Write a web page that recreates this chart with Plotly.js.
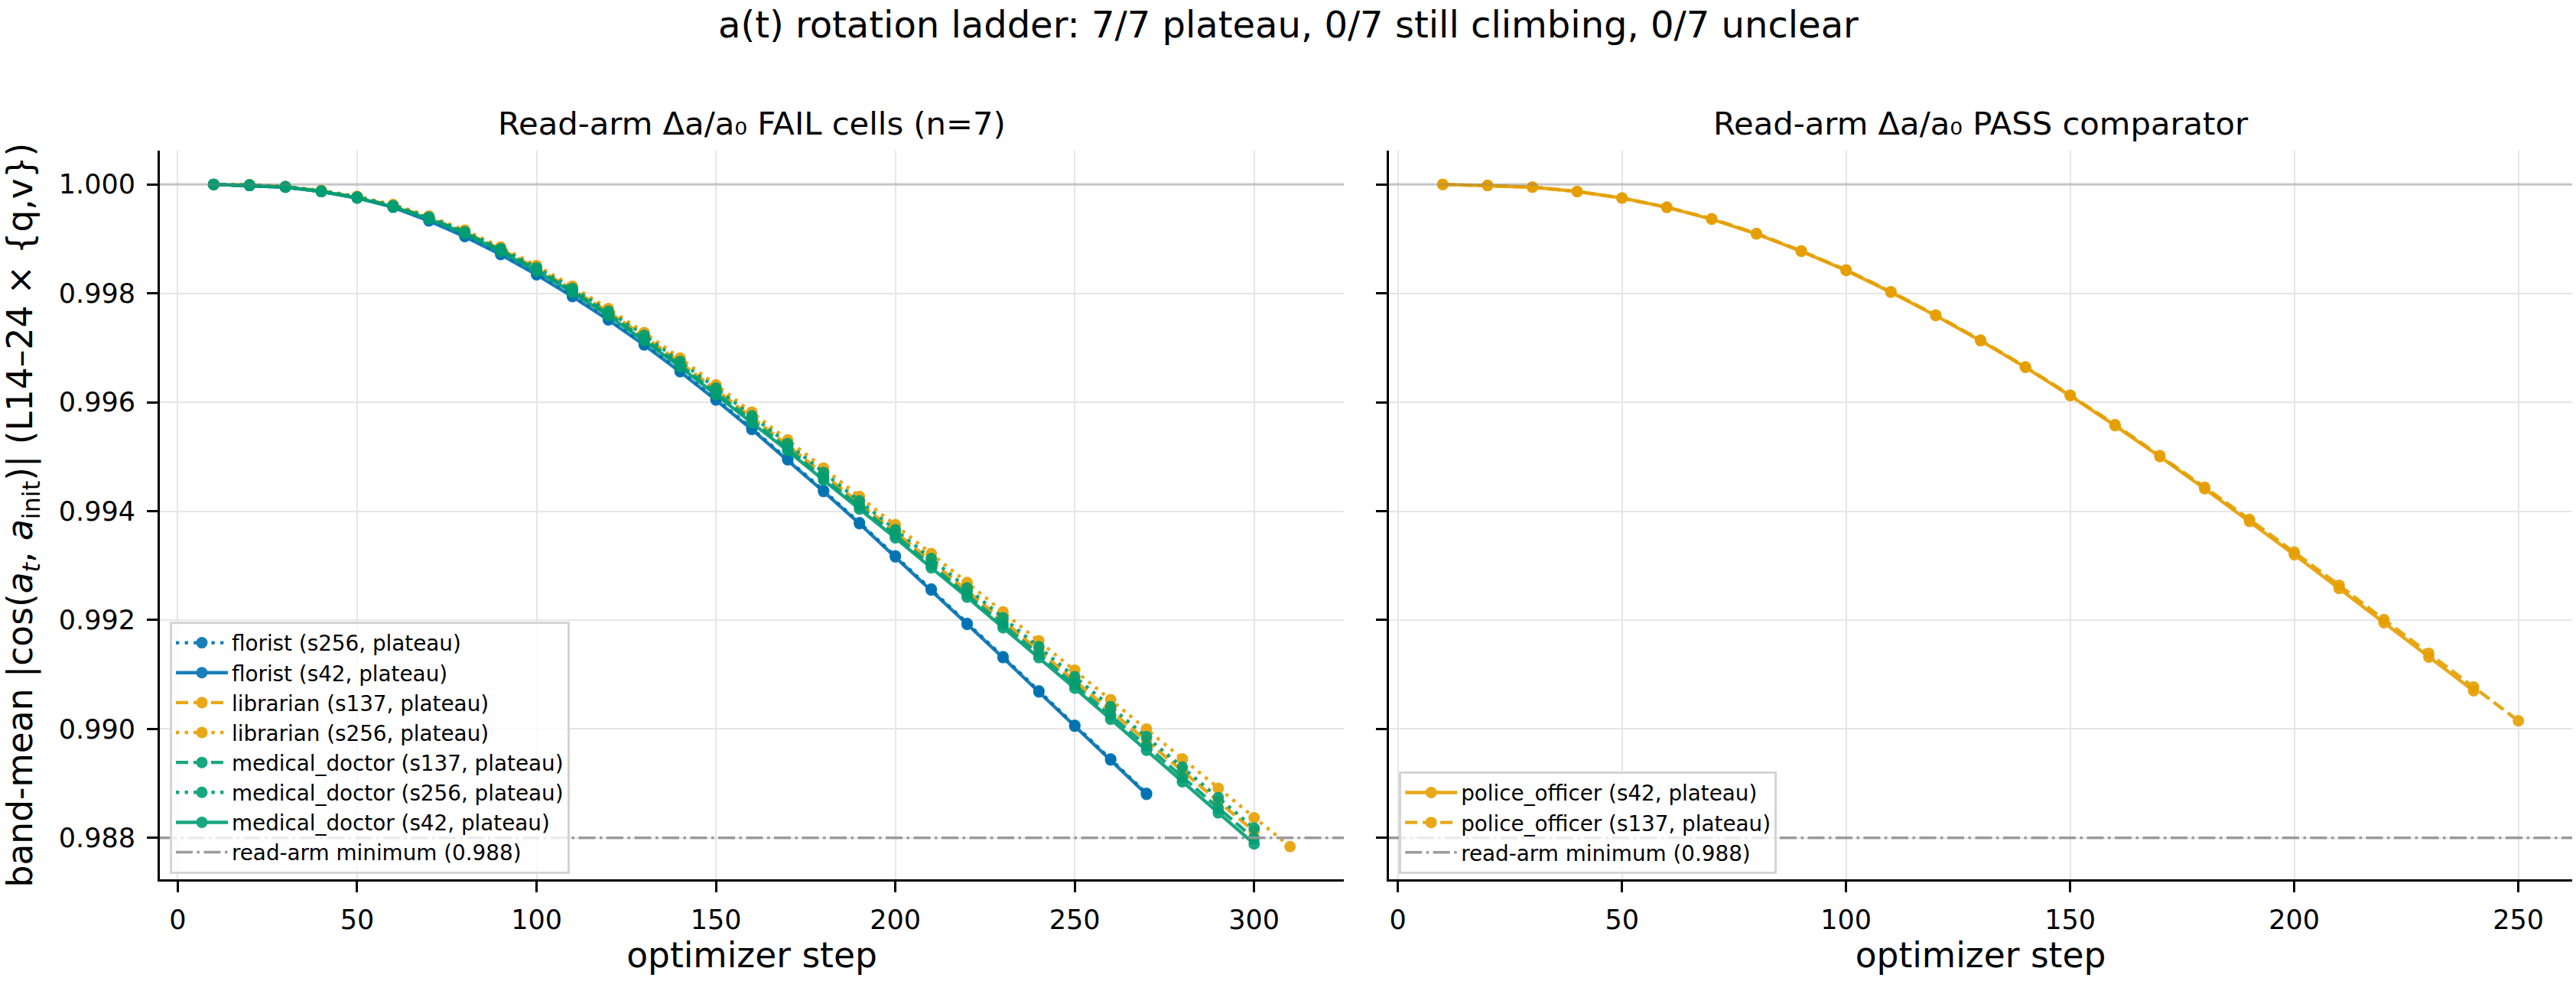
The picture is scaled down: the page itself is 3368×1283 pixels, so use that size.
<!DOCTYPE html>
<html>
<head>
<meta charset="utf-8">
<script src="https://cdn.plot.ly/plotly-3.0.1.min.js"></script>
<style>html,body{margin:0;padding:0;background:#fff;}</style>
</head>
<body>
<div id="chart" style="width:3368px;height:1283px;"></div>
<script>
// ---------------- data ----------------
const stepsTo270 = [10,20,30,40,50,60,70,80,90,100,110,120,130,140,150,160,170,180,190,200,210,220,230,240,250,260,270];
const stepsTo300 = [10,20,30,40,50,60,70,80,90,100,110,120,130,140,150,160,170,180,190,200,210,220,230,240,250,260,270,280,290,300];
const stepsTo310 = [10,20,30,40,50,60,70,80,90,100,110,120,130,140,150,160,170,180,190,200,210,220,230,240,250,260,270,280,290,300,310];
const stepsTo240 = [10,20,30,40,50,60,70,80,90,100,110,120,130,140,150,160,170,180,190,200,210,220,230,240];
const stepsTo250 = [10,20,30,40,50,60,70,80,90,100,110,120,130,140,150,160,170,180,190,200,210,220,230,240,250];

const floristS256 = [1.00000,0.99998,0.99995,0.99987,0.99976,0.99959,0.99935,0.99906,0.99873,0.99836,0.99796,0.99753,0.99707,0.99658,0.99606,0.99552,0.99496,0.99438,0.99379,0.99318,0.99257,0.99194,0.99133,0.99070,0.99007,0.98945,0.98882];
const floristS42 = [1.00000,0.99998,0.99995,0.99987,0.99975,0.99958,0.99933,0.99904,0.99871,0.99834,0.99794,0.99751,0.99705,0.99656,0.99604,0.99550,0.99494,0.99436,0.99377,0.99316,0.99255,0.99192,0.99131,0.99068,0.99005,0.98943,0.98880];
const librarianS137 = [1.00000,0.99999,0.99996,0.99988,0.99976,0.99961,0.99939,0.99912,0.99881,0.99846,0.99807,0.99766,0.99721,0.99673,0.99623,0.99572,0.99521,0.99468,0.99415,0.99362,0.99308,0.99254,0.99199,0.99145,0.99090,0.99035,0.98979,0.98923,0.98867,0.98812];
const librarianS256 = [1.00000,0.99999,0.99996,0.99989,0.99978,0.99963,0.99942,0.99916,0.99885,0.99851,0.99813,0.99772,0.99728,0.99681,0.99632,0.99582,0.99531,0.99479,0.99427,0.99375,0.99322,0.99269,0.99215,0.99162,0.99108,0.99054,0.99000,0.98945,0.98891,0.98837,0.98784];
const doctorS137 = [1.00000,0.99998,0.99995,0.99987,0.99976,0.99960,0.99938,0.99911,0.99879,0.99843,0.99804,0.99762,0.99716,0.99668,0.99618,0.99567,0.99515,0.99461,0.99409,0.99356,0.99301,0.99247,0.99192,0.99137,0.99082,0.99025,0.98969,0.98911,0.98855,0.98799];
const doctorS256 = [1.00000,0.99999,0.99996,0.99988,0.99977,0.99961,0.99940,0.99913,0.99882,0.99847,0.99809,0.99767,0.99723,0.99675,0.99626,0.99575,0.99524,0.99471,0.99419,0.99366,0.99313,0.99259,0.99204,0.99151,0.99096,0.99041,0.98986,0.98930,0.98874,0.98818];
const doctorS42 = [1.00000,0.99998,0.99995,0.99987,0.99975,0.99959,0.99937,0.99910,0.99877,0.99841,0.99802,0.99759,0.99713,0.99665,0.99614,0.99563,0.99511,0.99457,0.99404,0.99351,0.99296,0.99242,0.99186,0.99131,0.99075,0.99018,0.98961,0.98903,0.98846,0.98789];
const policeS42 = [1.00000,0.99998,0.99995,0.99987,0.99975,0.99958,0.99936,0.99909,0.99877,0.99842,0.99802,0.99759,0.99713,0.99664,0.99612,0.99557,0.99500,0.99441,0.99381,0.99320,0.99258,0.99195,0.99132,0.99070];
const policeS137 = [1.00000,0.99998,0.99995,0.99987,0.99975,0.99958,0.99937,0.99910,0.99878,0.99843,0.99803,0.99760,0.99714,0.99665,0.99613,0.99559,0.99502,0.99444,0.99385,0.99325,0.99264,0.99201,0.99139,0.99077,0.99015];

const readArmMinimum = 0.988;
const referenceCos = 1.0;
const yTickLabels = ['0.988','0.990','0.992','0.994','0.996','0.998','1.000'];
const yTickValues = [0.988,0.990,0.992,0.994,0.996,0.998,1.000];

// ---------------- styles ----------------
const BLUE = '#0072B2', ORANGE = '#E69F00', GREEN = '#009E73';
const LW = 4.4, MS = 15;
const DOT = '4.4px,7.2px';
const DASH = '16px,7px';
const DASHDOT = '22px,5.5px,3.5px,5.5px';

function tr(name, x, y, color, dash, xa, ya, legend) {
  return {
    type: 'scatter', mode: 'lines+markers', name: name, x: x, y: y,
    xaxis: xa, yaxis: ya, legend: legend, opacity: 0.9,
    line: {color: color, width: LW, dash: dash},
    marker: {color: color, size: MS, line: {width: 0}},
    hoverinfo: 'x+y+name'
  };
}

const data = [
  tr('florist (s256, plateau)', stepsTo270, floristS256, BLUE, DOT, 'x', 'y', 'legend'),
  tr('florist (s42, plateau)', stepsTo270, floristS42, BLUE, 'solid', 'x', 'y', 'legend'),
  tr('librarian (s137, plateau)', stepsTo300, librarianS137, ORANGE, DASH, 'x', 'y', 'legend'),
  tr('librarian (s256, plateau)', stepsTo310, librarianS256, ORANGE, DOT, 'x', 'y', 'legend'),
  tr('medical_doctor (s137, plateau)', stepsTo300, doctorS137, GREEN, DASH, 'x', 'y', 'legend'),
  tr('medical_doctor (s256, plateau)', stepsTo300, doctorS256, GREEN, DOT, 'x', 'y', 'legend'),
  tr('medical_doctor (s42, plateau)', stepsTo300, doctorS42, GREEN, 'solid', 'x', 'y', 'legend'),
  tr('police_officer (s42, plateau)', stepsTo240, policeS42, ORANGE, 'solid', 'x2', 'y2', 'legend2'),
  tr('police_officer (s137, plateau)', stepsTo250, policeS137, ORANGE, DASH, 'x2', 'y2', 'legend2')
];

const FONT = 'DejaVu Sans, Verdana, sans-serif';
const gridColor = '#e6e6e6';

function xAxis(domain, range, anchor) {
  return {
    domain: domain, range: range, anchor: anchor,
    tick0: 0, dtick: 50, tickmode: 'linear',
    showgrid: true, gridcolor: gridColor, gridwidth: 2,
    zeroline: false, showline: true, linecolor: '#000', linewidth: 3,
    ticks: 'outside', ticklen: 14, tickwidth: 3, tickcolor: '#000',
    tickfont: {family: FONT, size: 35, color: '#000'},
    ticklabelstandoff: 6,
    title: {text: 'optimizer step', font: {family: FONT, size: 45.5, color: '#000'}, standoff: 8},
    automargin: false
  };
}
function yAxis(anchor, showLabels) {
  return {
    domain: [0.10366, 0.84645], range: [0.98724, 1.00062], anchor: anchor,
    tickmode: 'array', tickvals: yTickValues, ticktext: yTickLabels,
    showticklabels: showLabels,
    showgrid: true, gridcolor: gridColor, gridwidth: 2,
    zeroline: false, showline: true, linecolor: '#000', linewidth: 3,
    ticks: 'outside', ticklen: 14, tickwidth: 3, tickcolor: '#000',
    tickfont: {family: FONT, size: 35, color: '#000'},
    ticklabelstandoff: 8,
    automargin: false
  };
}

const yMain = yAxis('x', true);
yMain.title = {
  text: 'band-mean |cos(<i>a<sub>t</sub></i>, <i>a</i><sub>init</sub>)| (L14–24 × {q,v})',
  font: {family: FONT, size: 45.5, color: '#000'}, standoff: 20
};
const ySecond = yAxis('x2', false);
ySecond.matches = 'y';

function hline(xref, yref, yv, color, width, dash, legendInfo) {
  const s = {
    type: 'line', xref: xref, yref: yref, x0: 0, x1: 1, y0: yv, y1: yv,
    layer: 'above', line: {color: color, width: width, dash: dash}
  };
  if (legendInfo) {
    s.showlegend = true; s.name = legendInfo.name; s.legend = legendInfo.legend; s.legendrank = 2000;
  }
  return s;
}

const legendStyle = (x, y) => ({
  x: x, y: y, xanchor: 'left', yanchor: 'top', xref: 'paper', yref: 'paper',
  bgcolor: 'rgba(255,255,255,0.8)', bordercolor: '#d4d4d4', borderwidth: 3,
  font: {family: FONT, size: 27.8, color: '#000'},
  itemwidth: 68, tracegroupgap: 0, traceorder: 'normal'
});

const layout = {
  width: 3368, height: 1283,
  margin: {l: 0, r: 0, t: 0, b: 0, pad: 0},
  paper_bgcolor: '#fff', plot_bgcolor: '#fff',
  font: {family: FONT, color: '#000'},
  showlegend: true,
  xaxis: xAxis([0.06205, 0.52168], [-5, 325], 'y'),
  yaxis: yMain,
  xaxis2: xAxis([0.53919, 0.99852], [-2, 262], 'y2'),
  yaxis2: ySecond,
  legend: legendStyle(0.0659, 0.3663),
  legend2: legendStyle(0.5431, 0.2136),
  shapes: [
    hline('x domain', 'y', referenceCos, 'rgba(128,128,128,0.32)', 3.5, 'solid'),
    hline('x2 domain', 'y2', referenceCos, 'rgba(128,128,128,0.32)', 3.5, 'solid'),
    hline('x domain', 'y', readArmMinimum, 'rgba(150,150,150,0.95)', 3.5, DASHDOT, {name: 'read-arm minimum (0.988)', legend: 'legend'}),
    hline('x2 domain', 'y2', readArmMinimum, 'rgba(150,150,150,0.95)', 3.5, DASHDOT, {name: 'read-arm minimum (0.988)', legend: 'legend2'})
  ],
  annotations: [
    {text: 'a(t) rotation ladder: 7/7 plateau, 0/7 still climbing, 0/7 unclear', xref: 'paper', yref: 'paper',
     x: 0.5, y: 0.9985, xanchor: 'center', yanchor: 'top', showarrow: false,
     font: {family: FONT, size: 48, color: '#000'}},
    {text: 'Read-arm Δa/a₀ FAIL cells (n=7)', xref: 'x domain', yref: 'paper',
     x: 0.5, y: 0.8745, xanchor: 'center', yanchor: 'middle', showarrow: false,
     font: {family: FONT, size: 41.7, color: '#000'}},
    {text: 'Read-arm Δa/a₀ PASS comparator', xref: 'x2 domain', yref: 'paper',
     x: 0.5, y: 0.8745, xanchor: 'center', yanchor: 'middle', showarrow: false,
     font: {family: FONT, size: 41.7, color: '#000'}}
  ]
};

Plotly.newPlot('chart', data, layout, {displayModeBar: false, staticPlot: true});
</script>
</body>
</html>
